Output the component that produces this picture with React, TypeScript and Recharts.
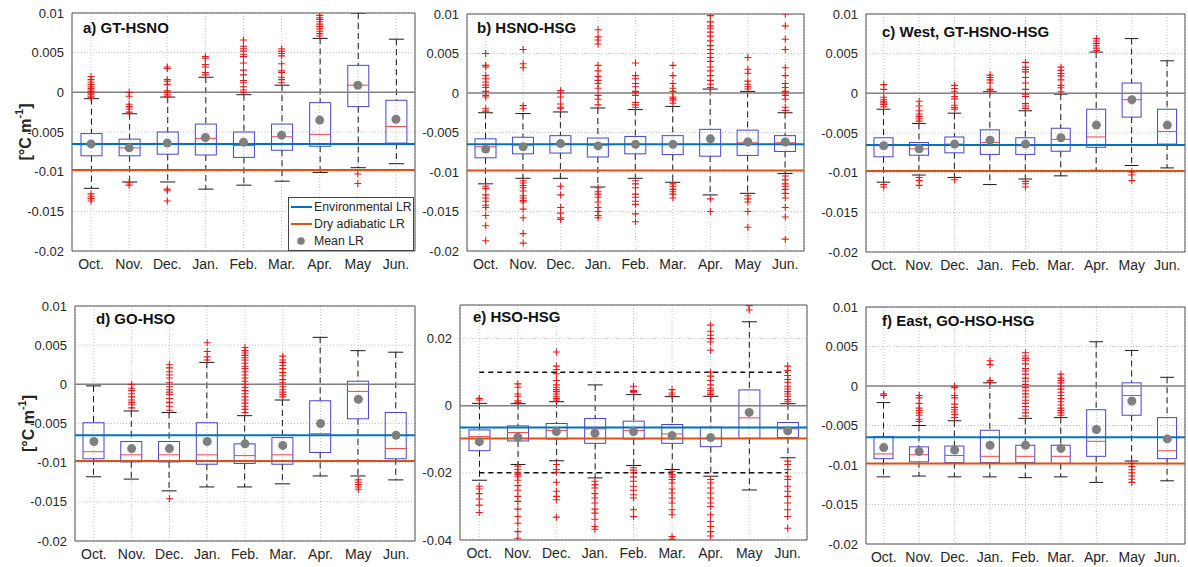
import React from 'react';
import {
  ComposedChart,
  Bar,
  Scatter,
  XAxis,
  YAxis,
  CartesianGrid,
  ReferenceLine,
  ReferenceArea,
  Legend,
} from 'recharts';

// ---------------- data ----------------
const months = ['Oct.', 'Nov.', 'Dec.', 'Jan.', 'Feb.', 'Mar.', 'Apr.', 'May', 'Jun.'];
const monthPositions = [1, 2, 3, 4, 5, 6, 7, 8, 9];
const ENV_LR = -0.0065;
const DRY_LR = -0.0098;
const yTicksStd = [-0.02, -0.015, -0.01, -0.005, 0, 0.005, 0.01];
const yTicksE = [-0.04, -0.02, 0, 0.02];
const eGuideLevels = [0.01, -0.02];

const legendItems = [
  { label: 'Environmental LR', kind: 'line', color: '#0072BD' },
  { label: 'Dry adiabatic LR', kind: 'line', color: '#D95319' },
  { label: 'Mean LR', kind: 'dot', color: '#7f7f7f' },
];

// a) GT-HSNO
const aQ3 = [-0.0052, -0.0059, -0.005, -0.004, -0.005, -0.004, -0.0013, 0.0034, -0.001];
const aQ1 = [-0.008, -0.008, -0.0078, -0.0079, -0.0082, -0.0073, -0.0068, -0.0018, -0.0064];
const aMed = [-0.0066, -0.007, -0.0065, -0.0058, -0.0067, -0.0056, -0.0053, 0.0009, -0.0043];
const aMean = [-0.0065, -0.007, -0.0064, -0.0057, -0.0063, -0.0054, -0.0035, 0.0009, -0.0034];
const aWhHi = [-0.0008, -0.0027, -0.0006, 0.0019, -0.0003, 0.0009, 0.0068, 0.01, 0.0067];
const aWhLo = [-0.0121, -0.0113, -0.0113, -0.0122, -0.0117, -0.0112, -0.0101, -0.0095, -0.009];
const aOut = [
  [0.002, 0.0016, 0.0013, 0.001, 0.0007, 0.0005, 0.0003, 0.0001, -0.0001, -0.0003, -0.0005, -0.0007, -0.0128, -0.0131, -0.0134, -0.0137],
  [0, -0.0005, -0.0015, -0.0018, -0.0021, -0.0025, -0.0114, -0.0117],
  [0.0032, 0.003, 0.0016, 0.0014, 0.001, 0.0002, 0, -0.0003, -0.0005, -0.0122, -0.0124, -0.0137],
  [0.0045, 0.0043, 0.0035, 0.0032, 0.0025, 0.0022],
  [0.0066, 0.0058, 0.0055, 0.0052, 0.0048, 0.0045, 0.0037, 0.0028, 0.0022, 0.0015, 0.0012, 0.0007, 0.0003, 0],
  [0.0055, 0.0052, 0.0049, 0.0046, 0.0036, 0.0027, 0.0025, 0.0019, 0.0016, 0.0012],
  [0.0097, 0.0094, 0.0092, 0.0089, 0.0086, 0.0083, 0.008, 0.0077, 0.0074, 0.0071],
  [-0.0103, -0.0115],
  [],
];

// b) HSNO-HSG
const bQ3 = [-0.0058, -0.0056, -0.0054, -0.0057, -0.0055, -0.0054, -0.0046, -0.0047, -0.0054];
const bQ1 = [-0.0082, -0.0077, -0.0076, -0.0081, -0.0077, -0.0078, -0.008, -0.0079, -0.0074];
const bMed = [-0.0068, -0.0066, -0.0064, -0.0066, -0.0065, -0.0065, -0.0065, -0.0063, -0.0063];
const bMean = [-0.0071, -0.0068, -0.0064, -0.0067, -0.0065, -0.0065, -0.0058, -0.0062, -0.0062];
const bWhHi = [-0.0025, -0.0026, -0.0024, -0.0019, -0.0021, -0.0017, 0.0005, 0.0002, -0.0025];
const bWhLo = [-0.0115, -0.0108, -0.0108, -0.0119, -0.0108, -0.0113, -0.0129, -0.0127, -0.0102];
const bOut = [
  [0.005, 0.0035, 0.0033, 0.0022, 0.0018, 0.0014, 0.001, 0.0007, 0.0002, -0.0003, -0.0005, -0.002, -0.0023,
    -0.0118, -0.0121, -0.0129, -0.0133, -0.0137, -0.0142, -0.0145, -0.0155, -0.0168, -0.0187],
  [0.0055, 0.0037, 0.0032, -0.0016, -0.002,
    -0.0111, -0.0114, -0.0117, -0.012, -0.0124, -0.013, -0.0133, -0.0136, -0.0138, -0.0147, -0.0158, -0.0178, -0.019],
  [0.0003, 0, -0.0005, -0.0014, -0.0018, -0.002, -0.0118, -0.0129, -0.0145, -0.0152, -0.0158, -0.016],
  [0.008, 0.0071, 0.0067, 0.0062, 0.0035, 0.0028, 0.0021, 0.0016, 0.0012, 0.0006, -0.0003, -0.0008, -0.0015,
    -0.012, -0.0125, -0.0128, -0.0132, -0.0138, -0.0145, -0.015, -0.0155, -0.0158],
  [0.0038, 0.0022, 0.0018, 0.0012, 0.0008, 0.0002, 0, -0.0003, -0.0012, -0.0015, -0.0018,
    -0.0111, -0.0115, -0.012, -0.0128, -0.0132, -0.0137, -0.0141, -0.0153, -0.0163],
  [0.0035, 0.0022, 0.0012, 0.0006, 0.0002, -0.0005, -0.0007, -0.0009, -0.0013,
    -0.0115, -0.0118, -0.0122, -0.0125, -0.0128, -0.0133],
  [0.0098, 0.009, 0.0085, 0.0082, 0.0077, 0.0072, 0.0066, 0.006, 0.0055, 0.005, 0.0045, 0.004, 0.0033, 0.0028,
    0.0022, 0.0016, 0.0011, 0.0007, -0.0134, -0.015],
  [0.0045, 0.003, 0.0025, 0.0015, 0.0011, 0.0008, 0.0005, -0.013, -0.0134, -0.0138, -0.015, -0.017],
  [0.01, 0.0085, 0.0068, 0.0055, 0.0032, 0.0022, 0.0012, 0.0007, 0.0002, 0, -0.0003, -0.0008, -0.0018, -0.0022,
    -0.0105, -0.011, -0.0115, -0.0118, -0.0122, -0.0127, -0.0133, -0.0145, -0.0157, -0.0185],
];

// c) West, GT-HSNO-HSG
const cQ3 = [-0.0056, -0.0062, -0.0055, -0.0046, -0.0056, -0.0044, -0.002, 0.0013, -0.002];
const cQ1 = [-0.008, -0.0078, -0.0075, -0.0077, -0.0077, -0.0073, -0.0068, -0.003, -0.0064];
const cMed = [-0.0066, -0.007, -0.0064, -0.0062, -0.0066, -0.0058, -0.0055, -0.0008, -0.0048];
const cMean = [-0.0066, -0.007, -0.0064, -0.0059, -0.0064, -0.0056, -0.004, -0.0008, -0.004];
const cWhHi = [-0.002, -0.0038, -0.0025, 0.0002, -0.0022, -0.0001, 0.0052, 0.0069, 0.0041];
const cWhLo = [-0.0112, -0.0103, -0.0106, -0.0115, -0.0108, -0.0104, -0.0097, -0.0091, -0.0094];
const cOut = [
  [0.0011, 0.0005, -0.0005, -0.0008, -0.001, -0.0012, -0.0014, -0.0017, -0.0115, -0.0118],
  [-0.001, -0.0016, -0.0022, -0.0026, -0.0029, -0.0032, -0.0035, -0.0106, -0.011, -0.0116],
  [0.001, 0.0006, 0.0002, -0.0004, -0.0007, -0.0015, -0.0018, -0.002, -0.0109],
  [0.0023, 0.002, 0.0017, 0.0013, 0.0005, 0.0003],
  [0.0039, 0.0033, 0.003, 0.0027, 0.002, 0.0013, 0.0005, -0.0001, -0.0004, -0.0013, -0.0016, -0.0019,
    -0.0111, -0.0114, -0.0118],
  [0.0033, 0.0029, 0.0025, 0.0022, 0.0017, 0.001, 0.0007, 0.0002],
  [0.0069, 0.0066, 0.0063, 0.006, 0.0057, 0.0054],
  [-0.0099, -0.0103, -0.011],
  [],
];

// d) GO-HSO
const dQ3 = [-0.0049, -0.0073, -0.0073, -0.0049, -0.0076, -0.0068, -0.0021, 0.0004, -0.0036];
const dQ1 = [-0.0095, -0.0099, -0.0099, -0.0102, -0.0101, -0.0102, -0.0087, -0.0044, -0.0095];
const dMed = [-0.0086, -0.009, -0.009, -0.009, -0.0091, -0.009, -0.0063, -0.0009, -0.0082];
const dMean = [-0.0073, -0.0082, -0.0082, -0.0073, -0.0076, -0.0078, -0.005, -0.0019, -0.0065];
const dWhHi = [-0.0002, -0.0034, -0.0036, 0.0028, -0.004, -0.002, 0.006, 0.0043, 0.0041];
const dWhLo = [-0.0118, -0.0121, -0.0136, -0.0131, -0.0131, -0.0127, -0.0117, -0.0117, -0.0122];
const dOut = [
  [],
  [0, -0.0005, -0.0008, -0.0012, -0.0016, -0.002, -0.0023, -0.0026, -0.003],
  [0.0025, 0.0021, 0.0016, 0.0012, 0.0008, 0.0002, -0.0003, -0.0007, -0.001, -0.0013, -0.0018, -0.0023, -0.0028, -0.0033, -0.0146],
  [0.0053, 0.0042, 0.0035, 0.0031],
  [0.0047, 0.0043, 0.004, 0.0037, 0.0034, 0.0031, 0.0027, 0.0023, 0.002, 0.0016, 0.0012, 0.0008, 0.0004, 0,
    -0.0004, -0.0008, -0.0012, -0.0016, -0.002, -0.0024, -0.0028, -0.0032, -0.0036],
  [0.0036, 0.0031, 0.0028, 0.0024, 0.002, 0.0015, 0.0011, 0.0006, 0.0002, -0.0003, -0.0007, -0.001, -0.0013, -0.0016],
  [],
  [-0.0122, -0.0125, -0.0128, -0.0131, -0.0134],
  [],
];

// e) HSO-HSG
const eQ3 = [-0.0072, -0.006, -0.0053, -0.0038, -0.0046, -0.0056, -0.0064, 0.0047, -0.005];
const eQ1 = [-0.0134, -0.0105, -0.0099, -0.0112, -0.0099, -0.0112, -0.0122, -0.0097, -0.0095];
const eMed = [-0.0092, -0.008, -0.0074, -0.0069, -0.0074, -0.0084, -0.0097, -0.0036, -0.0069];
const eMean = [-0.0107, -0.0094, -0.0077, -0.0082, -0.0077, -0.0089, -0.0095, -0.002, -0.0075];
const eWhHi = [0.0007, 0.0006, 0.0012, 0.0062, 0.0033, 0.0027, 0.0028, 0.025, 0.0006];
const eWhLo = [-0.0222, -0.0175, -0.0164, -0.0215, -0.0178, -0.019, -0.021, -0.0251, -0.0155];
const eOut = [
  [0.0022, 0.0017, -0.024, -0.0248, -0.0262, -0.0278, -0.0296, -0.0318],
  [0.0065, 0.0055, 0.0035, 0.0028, 0.0015, 0.001, -0.018, -0.019, -0.0198, -0.0205, -0.021, -0.0222, -0.0238,
    -0.0252, -0.027, -0.0285, -0.0308, -0.033, -0.035, -0.0375, -0.0395],
  [0.016, 0.0118, 0.0108, 0.0095, 0.0075, 0.0062, 0.0055, 0.0048, 0.0042, 0.0035, 0.0028, 0.0022, 0.0017,
    -0.0175, -0.019, -0.0198, -0.0228, -0.0255, -0.027, -0.028, -0.0332],
  [-0.0225, -0.0235, -0.0245, -0.0262, -0.0275, -0.029, -0.0308, -0.032, -0.0338, -0.036, -0.0368],
  [0.0058, 0.0045, 0.0042, 0.004, -0.0185, -0.0192, -0.02, -0.0212, -0.0225, -0.024, -0.0252, -0.0265, -0.0275,
    -0.031, -0.033],
  [0.0048, 0.0038, 0.0032, -0.0195, -0.0205, -0.0212, -0.022, -0.023, -0.0248, -0.026, -0.0275, -0.029, -0.031,
    -0.0325, -0.039, -0.0398],
  [0.024, 0.0222, 0.021, 0.02, 0.019, 0.0165, 0.01, 0.0088, 0.0075, 0.0062, 0.0052, 0.0045, 0.0038, 0.0033,
    -0.022, -0.023, -0.0245, -0.026, -0.0275, -0.029, -0.03, -0.0325, -0.0345, -0.036, -0.0375, -0.0388],
  [0.0285, 0.0298],
  [0.0118, 0.0105, 0.009, 0.0078, 0.007, 0.0058, 0.005, 0.0042, 0.0035, 0.0028, 0.0018, 0.0012,
    -0.0165, -0.0175, -0.019, -0.021, -0.022, -0.024, -0.0255, -0.027, -0.029, -0.031, -0.033, -0.0365],
];

// f) East, GO-HSO-HSG
const fQ3 = [-0.0064, -0.0077, -0.0076, -0.0056, -0.0075, -0.0075, -0.003, 0.0004, -0.004];
const fQ1 = [-0.0092, -0.0096, -0.0097, -0.0097, -0.0097, -0.0098, -0.0089, -0.0037, -0.0092];
const fMed = [-0.0086, -0.0087, -0.0088, -0.0089, -0.0089, -0.0089, -0.007, -0.0012, -0.0082];
const fMean = [-0.0078, -0.0083, -0.0081, -0.0075, -0.0075, -0.0079, -0.0055, -0.0019, -0.0067];
const fWhHi = [-0.0021, -0.005, -0.0044, 0.0004, -0.0041, -0.004, 0.0056, 0.0045, 0.0011];
const fWhLo = [-0.0115, -0.0114, -0.0115, -0.0115, -0.0116, -0.0115, -0.0122, -0.0095, -0.012];
const fOut = [
  [-0.001, -0.0012],
  [-0.0012, -0.0015, -0.0022, -0.0028, -0.0031, -0.0034, -0.0037, -0.0042, -0.0045],
  [0, -0.0002, -0.0012, -0.0015, -0.0023, -0.0027, -0.003, -0.0033, -0.0036, -0.004],
  [0.0032, 0.0027, 0.0007, 0.0005],
  [0.0042, 0.0038, 0.0035, 0.0032, 0.0028, 0.0022, 0.0019, 0.0015, 0.001, 0.0006, 0.0002, -0.0002, -0.0006,
    -0.001, -0.0014, -0.0018, -0.0022, -0.0026, -0.003, -0.0034, -0.0038],
  [0.0015, 0.001, 0.0007, 0.0004, 0, -0.0004, -0.0008, -0.0012, -0.0016, -0.002, -0.0024, -0.0028, -0.0031,
    -0.0034, -0.0037],
  [],
  [-0.0098, -0.0102, -0.0106, -0.011, -0.0114, -0.0118, -0.0122],
  [],
];

// ---------------- styling / layout ----------------
const FONT = '"Liberation Sans", Arial, Helvetica, sans-serif';
const TEXT = '#262626';
const BOX_BLUE = '#4646c8';
const MED_RED = '#e8474a';
const OUT_RED = '#e41a1c';
const MEAN_GRAY = '#7f7f7f';

type Spec = {
  title: string;
  q1: number[];
  q3: number[];
  med: number[];
  mean: number[];
  whLo: number[];
  whHi: number[];
  out: number[][];
  domain: [number, number];
  ticks: number[];
  rect: { L: number; R: number; T: number; B: number };
  titleAt: { x: number; y: number };
  yLabel?: boolean;
  legend?: boolean;
  guides?: number[];
};

const PADL = 70;
const PADT = 12;
const PADR = 8;
const PADB = 34;

const BoxShape = (props: any) => {
  const { x, y, width, height, payload } = props;
  if (x == null || y == null || !payload) return null;
  const top = Math.min(y, y + height);
  const bot = Math.max(y, y + height);
  const hi = payload.whHi;
  const lo = payload.whLo;
  const py = (v: number) => top + ((hi - v) / (hi - lo)) * (bot - top);
  const cx = x + width / 2;
  const capHalf = width * 0.36;
  const yQ3 = py(payload.q3);
  const yQ1 = py(payload.q1);
  const yMed = py(payload.med);
  return (
    <g>
      <line x1={cx} x2={cx} y1={top} y2={yQ3} stroke="#1a1a1a" strokeWidth={1} strokeDasharray="6 4" />
      <line x1={cx} x2={cx} y1={yQ1} y2={bot} stroke="#1a1a1a" strokeWidth={1} strokeDasharray="6 4" />
      <line x1={cx - capHalf} x2={cx + capHalf} y1={top} y2={top} stroke="#1a1a1a" strokeWidth={1} />
      <line x1={cx - capHalf} x2={cx + capHalf} y1={bot} y2={bot} stroke="#1a1a1a" strokeWidth={1} />
      <rect x={x} y={yQ3} width={width} height={yQ1 - yQ3} fill="none" stroke={BOX_BLUE} strokeWidth={1} />
      <line x1={x} x2={x + width} y1={yMed} y2={yMed} stroke={MED_RED} strokeWidth={1} />
    </g>
  );
};

const MeanDot = (props: any) => {
  const { cx, cy } = props;
  if (cx == null || cy == null) return null;
  return <circle cx={cx} cy={cy} r={4.5} fill={MEAN_GRAY} />;
};

const PlusMark = (props: any) => {
  const { cx, cy } = props;
  if (cx == null || cy == null) return null;
  return (
    <path
      d={`M${cx - 3.5},${cy}H${cx + 3.5}M${cx},${cy - 3.5}V${cy + 3.5}`}
      stroke={OUT_RED}
      strokeWidth={1.1}
      fill="none"
    />
  );
};

const YLabel = (props: any) => {
  const vb = props.viewBox || {};
  const x = (vb.x ?? 0) + 23;
  const y = (vb.y ?? 0) + (vb.height ?? 0) / 2;
  return (
    <text
      x={x}
      y={y}
      transform={`rotate(-90, ${x}, ${y})`}
      textAnchor="middle"
      dominantBaseline="central"
      fontFamily={FONT}
      fontWeight="bold"
      fontSize={16}
      fill={TEXT}
    >
      [°C m
      <tspan dy={-6} fontSize={11}>-1</tspan>
      <tspan dy={6}>]</tspan>
    </text>
  );
};

const LegendBox = () => (
  <div
    style={{
      border: '1px solid #444',
      background: '#fff',
      width: 126,
      height: 54,
      padding: '1px 0 0 0',
      fontFamily: FONT,
      fontSize: 12.3,
      color: TEXT,
      boxSizing: 'border-box',
    }}
  >
    {legendItems.map((it) => (
      <div key={it.label} style={{ display: 'flex', alignItems: 'center', height: 16.7, whiteSpace: 'nowrap' }}>
        <svg width={24} height={12} style={{ flex: 'none' }}>
          {it.kind === 'line' ? (
            <line x1={2} x2={23} y1={6} y2={6} stroke={it.color} strokeWidth={2} />
          ) : (
            <circle cx={12} cy={6} r={3.8} fill={it.color} />
          )}
        </svg>
        <span style={{ marginLeft: 1 }}>{it.label}</span>
      </div>
    ))}
  </div>
);

function Panel({ spec }: { spec: Spec }) {
  const { L, R, T, B } = spec.rect;
  const width = R - L + PADL + PADR;
  const height = B - T + PADT + PADB;
  const left = L - PADL;
  const top = T - PADT;
  const rows = months.map((m, i) => ({
    x: monthPositions[i],
    name: m,
    wh: [spec.whLo[i], spec.whHi[i]],
    whLo: spec.whLo[i],
    whHi: spec.whHi[i],
    q1: spec.q1[i],
    q3: spec.q3[i],
    med: spec.med[i],
    mean: spec.mean[i],
  }));
  const outs = spec.out.flatMap((arr, i) => arr.map((v) => ({ x: monthPositions[i], y: v })));
  const band = (R - L) / months.length;
  const boxW = Math.round(band * 0.55);
  const [y0, y1] = spec.domain;
  return (
    <>
      <div style={{ position: 'absolute', left, top, width, height }}>
        <ComposedChart
          width={width}
          height={height}
          data={rows}
          margin={{ top: PADT, right: PADR, bottom: 0, left: 0 }}
          style={{ fontFamily: FONT }}
        >
          <CartesianGrid stroke="#c4c4c4" strokeDasharray="1 2" />
          <XAxis
            dataKey="x"
            type="number"
            domain={[0.5, 9.5]}
            ticks={monthPositions}
            interval={0}
            allowDataOverflow
            tickFormatter={(v: number) => months[Math.round(v) - 1] ?? ''}
            height={PADB}
            axisLine={false}
            tickLine={false}
            tick={{ fontSize: 14, fill: TEXT, fontFamily: FONT }}
          />
          <YAxis
            type="number"
            domain={spec.domain}
            ticks={spec.ticks}
            interval={0}
            allowDataOverflow
            width={PADL}
            axisLine={false}
            tickLine={false}
            tickFormatter={(v: number) => String(v)}
            tick={{ fontSize: 13, fill: TEXT, fontFamily: FONT }}
            label={spec.yLabel ? <YLabel /> : undefined}
          />
          <ReferenceLine y={0} stroke="#808080" strokeWidth={1.5} />
          <ReferenceLine y={ENV_LR} stroke="#0072BD" strokeWidth={2} />
          <ReferenceLine y={DRY_LR} stroke="#D95319" strokeWidth={2} />
          {(spec.guides || []).map((g) => (
            <ReferenceLine
              key={g}
              segment={[
                { x: monthPositions[0], y: g },
                { x: monthPositions[monthPositions.length - 1], y: g },
              ]}
              stroke="#111"
              strokeWidth={1.5}
              strokeDasharray="5 4"
            />
          ))}
          <Bar dataKey="wh" barSize={boxW} isAnimationActive={false} shape={<BoxShape />} />
          <Scatter dataKey="mean" isAnimationActive={false} shape={<MeanDot />} />
          <Scatter data={outs} dataKey="y" isAnimationActive={false} shape={<PlusMark />} />
          <ReferenceArea x1={0.5} x2={9.5} y1={y0} y2={y1} fill="none" fillOpacity={0} stroke="#555" strokeWidth={1} />
          {spec.legend ? (
            <Legend
              layout="vertical"
              align="center"
              verticalAlign="middle"
              wrapperStyle={{ left: 286, top: 196, width: 'auto', height: 'auto' }}
              content={() => <LegendBox />}
            />
          ) : null}
        </ComposedChart>
      </div>
      <div
        style={{
          position: 'absolute',
          left: spec.titleAt.x,
          top: spec.titleAt.y - 13.7,
          fontFamily: FONT,
          fontWeight: 'bold',
          fontSize: 15,
          lineHeight: '17px',
          color: '#111',
          whiteSpace: 'nowrap',
        }}
      >
        {spec.title}
      </div>
    </>
  );
}

const panels: Spec[] = [
  {
    title: 'a) GT-HSNO', q1: aQ1, q3: aQ3, med: aMed, mean: aMean, whLo: aWhLo, whHi: aWhHi, out: aOut,
    domain: [-0.02, 0.01], ticks: yTicksStd, rect: { L: 72, R: 415, T: 13, B: 251 },
    titleAt: { x: 83, y: 33 }, yLabel: true, legend: true,
  },
  {
    title: 'b) HSNO-HSG', q1: bQ1, q3: bQ3, med: bMed, mean: bMean, whLo: bWhLo, whHi: bWhHi, out: bOut,
    domain: [-0.02, 0.01], ticks: yTicksStd, rect: { L: 467, R: 804, T: 14, B: 251 },
    titleAt: { x: 477, y: 33 },
  },
  {
    title: 'c) West, GT-HSNO-HSG', q1: cQ1, q3: cQ3, med: cMed, mean: cMean, whLo: cWhLo, whHi: cWhHi, out: cOut,
    domain: [-0.02, 0.01], ticks: yTicksStd, rect: { L: 866, R: 1185, T: 14, B: 252 },
    titleAt: { x: 882, y: 37 },
  },
  {
    title: 'd) GO-HSO', q1: dQ1, q3: dQ3, med: dMed, mean: dMean, whLo: dWhLo, whHi: dWhHi, out: dOut,
    domain: [-0.02, 0.01], ticks: yTicksStd, rect: { L: 75, R: 415, T: 306, B: 541 },
    titleAt: { x: 96, y: 324 }, yLabel: true,
  },
  {
    title: 'e) HSO-HSG', q1: eQ1, q3: eQ3, med: eMed, mean: eMean, whLo: eWhLo, whHi: eWhHi, out: eOut,
    domain: [-0.04, 0.03], ticks: yTicksE, rect: { L: 460, R: 807, T: 305, B: 540 },
    titleAt: { x: 473, y: 322 }, guides: eGuideLevels,
  },
  {
    title: 'f) East, GO-HSO-HSG', q1: fQ1, q3: fQ3, med: fMed, mean: fMean, whLo: fWhLo, whHi: fWhHi, out: fOut,
    domain: [-0.02, 0.01], ticks: yTicksStd, rect: { L: 866, R: 1185, T: 307, B: 544 },
    titleAt: { x: 882, y: 326 },
  },
];

export default function App() {
  return (
    <div
      style={{
        position: 'absolute',
        left: 0,
        top: 0,
        width: 1188,
        height: 567,
        background: '#fff',
        overflow: 'hidden',
        fontFamily: FONT,
      }}
    >
      {panels.map((p) => (
        <Panel key={p.title} spec={p} />
      ))}
    </div>
  );
}
